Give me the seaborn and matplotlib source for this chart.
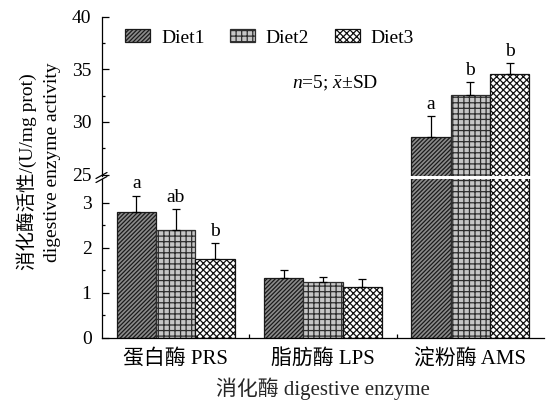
import numpy as np
import pandas as pd
import matplotlib
matplotlib.use("Agg")
import matplotlib.pyplot as plt
from matplotlib.lines import Line2D
import seaborn as sns

# ---- data -------------------------------------------------------------
enzymes = ["蛋白酶 PRS", "脂肪酶 LPS", "淀粉酶 AMS"]
diets = ["Diet1", "Diet2", "Diet3"]

prs_mean = [2.79, 2.39, 1.74]
prs_sd = [0.37, 0.47, 0.36]
lps_mean = [1.32, 1.23, 1.12]
lps_sd = [0.19, 0.12, 0.18]
ams_mean = [28.54, 32.56, 34.53]
ams_sd = [2.05, 1.26, 1.10]

prs_letters = ["a", "ab", "b"]
lps_letters = ["", "", ""]
ams_letters = ["a", "b", "b"]

upper_ticks = [25, 30, 35, 40]
lower_ticks = [0, 1, 2, 3]

# ---- style ------------------------------------------------------------
sns.set_style("ticks")
plt.rcParams.update({
    "mathtext.fontset": "custom",
    "mathtext.rm": "Liberation Serif",
    "mathtext.it": "Liberation Serif:italic",
    "hatch.linewidth": 0.9,
    "axes.linewidth": 0.9,
    "axes.edgecolor": "black",
    "xtick.color": "black",
    "ytick.color": "black",
    "text.color": "black",
})
plt.rcParams["font.family"] = ["Liberation Serif", "Noto Sans CJK SC"]

df = pd.DataFrame({
    "enzyme": np.repeat(enzymes, len(diets)),
    "diet": diets * len(enzymes),
    "mean": prs_mean + lps_mean + ams_mean,
    "sd": prs_sd + lps_sd + ams_sd,
    "letter": prs_letters + lps_letters + ams_letters,
})

W, H = 547, 405
fig = plt.figure(figsize=(W / 100, H / 100), dpi=100)


def axes_px(left, top, right, bottom):
    return fig.add_axes([left / W, 1 - bottom / H, (right - left) / W, (bottom - top) / H])


# broken y axis: upper panel for amylase, lower panel for the small values
ax_up = axes_px(102, 16.7, 544, 176)
ax_lo = axes_px(102, 179, 544, 337.7)

faces = ["#8c8c8c", "#c6c6c6", "#ffffff"]
edges = ["#1a1a1a", "#2e2e2e", "#111111"]
hatches = ["////////", "+++", "xxxxx"]
bar_groups = {}

for ax in (ax_up, ax_lo):
    sns.barplot(data=df, x="enzyme", y="mean", hue="diet", order=enzymes,
                hue_order=diets, errorbar=None, width=0.8, saturation=1,
                legend=False, ax=ax)
    conts = list(ax.containers)[:len(diets)]
    bar_groups[ax] = conts
    for i, cont in enumerate(conts):
        for bar in cont:
            bar.set_facecolor(faces[i])
            bar.set_edgecolor(edges[i])
            bar.set_hatch(hatches[i])
            bar.set_linewidth(0.9)
        sub = df[df["diet"] == diets[i]].set_index("enzyme").loc[enzymes]
        xs = [b.get_x() + b.get_width() / 2 for b in cont]
        ax.errorbar(xs, sub["mean"], yerr=[np.zeros(len(xs)), sub["sd"]],
                    fmt="none", ecolor="black", elinewidth=0.9,
                    capsize=2.8, capthick=0.9, zorder=3)
    ax.set_xlim(-0.5, 2.5)
    ax.set_xlabel("")
    ax.set_ylabel("")
    ax.spines["top"].set_visible(False)
    ax.spines["right"].set_visible(False)
    ax.tick_params(axis="y", which="major", direction="in", length=5,
                   width=0.9, labelsize=14, pad=7.5)
    ax.tick_params(axis="y", which="minor", direction="in", length=2.5, width=0.9)

# significance letters above the error bars
for i, d in enumerate(diets):
    sub = df[df["diet"] == d].set_index("enzyme").loc[enzymes]
    for j, bar in enumerate(bar_groups[ax_lo][i]):
        top = sub["mean"].iloc[j] + sub["sd"].iloc[j]
        letter = sub["letter"].iloc[j]
        if not letter:
            continue
        target = ax_up if top >= 25 else ax_lo
        target.annotate(letter, (bar.get_x() + bar.get_width() / 2, top),
                        xytext=(0, 2.2), textcoords="offset points",
                        ha="center", va="bottom", fontsize=14)

# upper panel
ax_up.set_ylim(24.87, 40)
ax_up.set_yticks(upper_ticks)
ax_up.set_yticks([27.5, 32.5, 37.5], minor=True)
ax_up.spines["bottom"].set_visible(False)
ax_up.tick_params(axis="x", which="both", bottom=False, labelbottom=False)

# lower panel
ax_lo.set_ylim(0, 3.527)
ax_lo.set_yticks(lower_ticks)
ax_lo.set_yticks([0.5, 1.5, 2.5], minor=True)
ax_lo.set_xticks(range(len(enzymes)))
ax_lo.set_xticklabels(enzymes)
ax_lo.set_xticks([0.5, 1.5], minor=True)
ax_lo.tick_params(axis="x", which="major", direction="in", length=4,
                  width=0.9, labelsize=15, pad=8)
ax_lo.tick_params(axis="x", which="minor", direction="in", length=3, width=0.9)
ax_lo.set_xlabel("消化酶 digestive enzyme", fontsize=15, labelpad=6)

# break marks on the y axis
for y0 in (178.5, 182.5):
    fig.add_artist(Line2D([96 / W, 107 / W], [1 - y0 / H, 1 - (y0 - 6) / H],
                          transform=fig.transFigure, color="black", lw=0.9))

# y-axis title (Chinese and English lines)
fig.text(27 / W, 1 - 171.5 / H, "消化酶活性/(U/mg prot)", rotation=90,
         ha="center", va="center", fontsize=14)
fig.text(53 / W, 1 - 162 / H, "digestive enzyme activity", rotation=90,
         ha="center", va="center", fontsize=14)

# legend
handles = [bar_groups[ax_lo][i][0] for i in range(len(diets))]
ax_up.legend(handles, diets, ncol=3, frameon=False, loc="center left",
             bbox_to_anchor=(125 / W, 1 - 38 / H), bbox_transform=fig.transFigure,
             borderaxespad=0, borderpad=0, handlelength=1.3, handleheight=0.6,
             handletextpad=0.55, columnspacing=1.3, fontsize=14)

fig.text(335 / W, 1 - 83 / H, r"$n$=5; $\bar{x}$±SD", ha="center", va="center",
         fontsize=14)

fig.savefig("out.png", dpi=100)
